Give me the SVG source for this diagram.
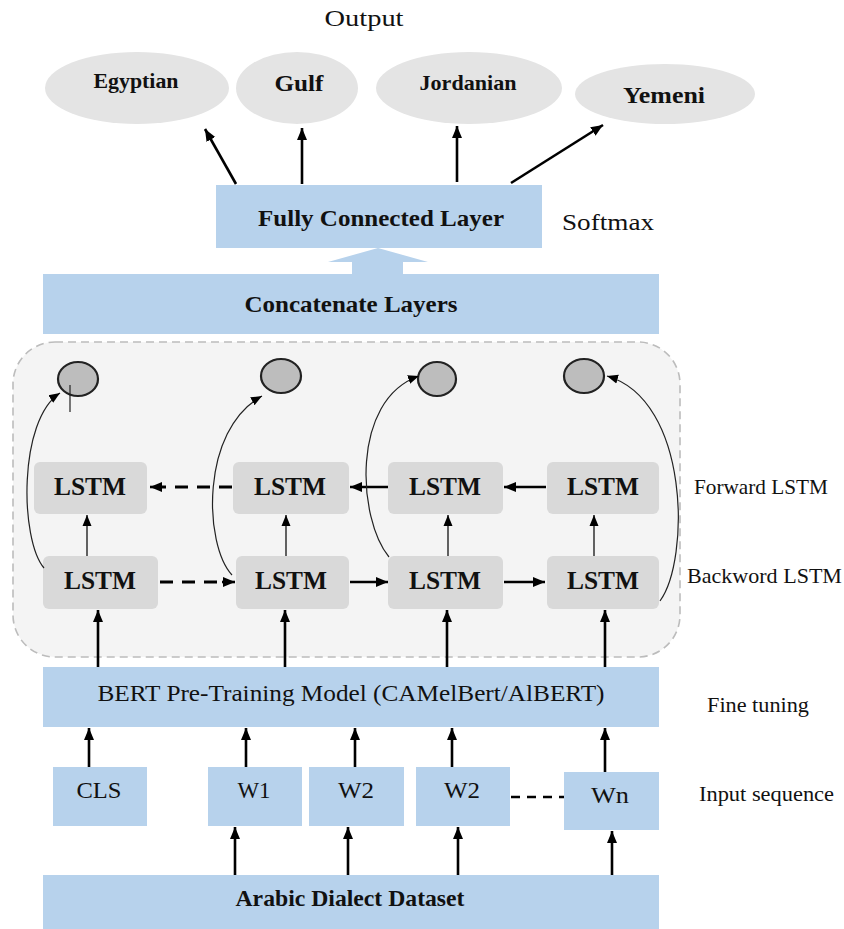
<svg xmlns="http://www.w3.org/2000/svg" width="844" height="929" viewBox="0 0 844 929">
<style>
text{font-family:"Liberation Serif","Times New Roman",serif;fill:#111;text-anchor:middle}
.b{font-weight:bold}
.blue{fill:#b7d2ec}
.oval{fill:#e4e4e4}
.lstm{fill:#d9d9d9}
.lt{font-weight:bold;font-size:25px}
.side{font-size:21px;text-anchor:start}
.ar{stroke:#000;stroke-width:2.6;fill:none;marker-end:url(#ah)}
.th{stroke:#222;stroke-width:1.4;fill:none;marker-end:url(#as)}
.cv{stroke:#222;stroke-width:1.2;fill:none;marker-end:url(#as)}
.dash{stroke:#000;stroke-width:3;fill:none;stroke-dasharray:13 9}
.circ{fill:#bdbdbd;stroke:#222;stroke-width:2.2}
</style>
<defs>
<marker id="ah" markerUnits="userSpaceOnUse" markerWidth="12" markerHeight="12" refX="12" refY="6" orient="auto"><path d="M0,1 L12,6 L0,11 z" fill="#000"/></marker>
<marker id="as" markerUnits="userSpaceOnUse" markerWidth="12" markerHeight="10" refX="11" refY="5" orient="auto"><path d="M0,0.5 L11,5 L0,9.5 z" fill="#000"/></marker>
</defs>
<rect width="844" height="929" fill="#fff"/>

<text x="364" y="26" style="font-size:23px" textLength="79" lengthAdjust="spacingAndGlyphs">Output</text>

<g id="egyptian"><ellipse class="oval" cx="137" cy="88" rx="92" ry="36"/><text class="b" x="136" y="88" style="font-size:20px" textLength="85" lengthAdjust="spacingAndGlyphs">Egyptian</text></g>
<g id="gulf"><ellipse class="oval" cx="297" cy="88" rx="61" ry="36"/><text class="b" x="299" y="91" style="font-size:23px" textLength="49" lengthAdjust="spacingAndGlyphs">Gulf</text></g>
<g id="jordanian"><ellipse class="oval" cx="469" cy="88" rx="93" ry="36"/><text class="b" x="468" y="90" style="font-size:21px" textLength="97" lengthAdjust="spacingAndGlyphs">Jordanian</text></g>
<g id="yemeni"><ellipse class="oval" cx="665" cy="94" rx="90" ry="30"/><text class="b" x="664" y="103" style="font-size:23px" textLength="82" lengthAdjust="spacingAndGlyphs">Yemeni</text></g>

<g id="fc"><rect class="blue" x="216" y="185" width="326" height="63"/><text class="b" x="381" y="226" style="font-size:24px" textLength="246" lengthAdjust="spacingAndGlyphs">Fully Connected Layer</text></g>
<text x="562" y="230" style="font-size:24px;text-anchor:start" textLength="92" lengthAdjust="spacingAndGlyphs">Softmax</text>

<g id="concat"><rect class="blue" x="43" y="274" width="616" height="60"/><text class="b" x="351" y="312" style="font-size:24px" textLength="213" lengthAdjust="spacingAndGlyphs">Concatenate Layers</text></g>

<g id="bilstm-container"><rect x="13" y="342" width="667" height="315" rx="42" fill="#f4f4f4" stroke="#bcbcbc" stroke-width="1.6" stroke-dasharray="8 5"/></g>

<g id="h1"><ellipse class="circ" cx="78" cy="379" rx="20" ry="17"/></g>
<g id="h2"><ellipse class="circ" cx="281" cy="376" rx="20" ry="17"/></g>
<g id="h3"><ellipse class="circ" cx="437" cy="379" rx="19" ry="17"/></g>
<g id="h4"><ellipse class="circ" cx="584" cy="376" rx="20" ry="17"/></g>

<g id="f1"><rect class="lstm" x="34" y="462" width="113" height="52" rx="6"/><text class="lt" x="90" y="495" textLength="72" lengthAdjust="spacingAndGlyphs">LSTM</text></g>
<g id="f2"><rect class="lstm" x="233" y="462" width="116" height="52" rx="6"/><text class="lt" x="290" y="495" textLength="72" lengthAdjust="spacingAndGlyphs">LSTM</text></g>
<g id="f3"><rect class="lstm" x="388" y="462" width="115" height="52" rx="6"/><text class="lt" x="445" y="495" textLength="72" lengthAdjust="spacingAndGlyphs">LSTM</text></g>
<g id="f4"><rect class="lstm" x="547" y="462" width="112" height="52" rx="6"/><text class="lt" x="603" y="495" textLength="72" lengthAdjust="spacingAndGlyphs">LSTM</text></g>

<g id="b1"><rect class="lstm" x="43" y="556" width="115" height="53" rx="6"/><text class="lt" x="100" y="589" textLength="72" lengthAdjust="spacingAndGlyphs">LSTM</text></g>
<g id="b2"><rect class="lstm" x="236" y="556" width="113" height="53" rx="6"/><text class="lt" x="291" y="589" textLength="72" lengthAdjust="spacingAndGlyphs">LSTM</text></g>
<g id="b3"><rect class="lstm" x="388" y="556" width="115" height="53" rx="6"/><text class="lt" x="445" y="589" textLength="72" lengthAdjust="spacingAndGlyphs">LSTM</text></g>
<g id="b4"><rect class="lstm" x="547" y="556" width="112" height="53" rx="6"/><text class="lt" x="603" y="589" textLength="72" lengthAdjust="spacingAndGlyphs">LSTM</text></g>

<text class="side" x="694" y="494" textLength="134" lengthAdjust="spacingAndGlyphs">Forward LSTM</text>
<text class="side" x="687" y="583" textLength="155" lengthAdjust="spacingAndGlyphs">Backword LSTM</text>

<g id="bert"><rect class="blue" x="43" y="667" width="616" height="60"/><text x="351" y="701" style="font-size:24px" textLength="507" lengthAdjust="spacingAndGlyphs">BERT Pre-Training Model (CAMelBert/AlBERT)</text></g>
<text class="side" x="707" y="712" style="font-size:22px" textLength="102" lengthAdjust="spacingAndGlyphs">Fine tuning</text>

<g id="cls"><rect class="blue" x="53" y="767" width="94" height="59"/><text x="99" y="798" style="font-size:24px" textLength="45" lengthAdjust="spacingAndGlyphs">CLS</text></g>
<g id="w1"><rect class="blue" x="208" y="767" width="94" height="59"/><text x="254" y="798" style="font-size:24px" textLength="33" lengthAdjust="spacingAndGlyphs">W1</text></g>
<g id="w2"><rect class="blue" x="309" y="767" width="95" height="59"/><text x="356" y="798" style="font-size:24px" textLength="36" lengthAdjust="spacingAndGlyphs">W2</text></g>
<g id="w2b"><rect class="blue" x="416" y="767" width="94" height="59"/><text x="462" y="798" style="font-size:24px" textLength="36" lengthAdjust="spacingAndGlyphs">W2</text></g>
<g id="wn"><rect class="blue" x="564" y="772" width="95" height="58"/><text x="610" y="803" style="font-size:24px" textLength="38" lengthAdjust="spacingAndGlyphs">Wn</text></g>
<text class="side" x="699" y="801" style="font-size:22px" textLength="135" lengthAdjust="spacingAndGlyphs">Input sequence</text>

<g id="dataset"><rect class="blue" x="43" y="875" width="616" height="54"/><text class="b" x="350" y="906" style="font-size:23px" textLength="229" lengthAdjust="spacingAndGlyphs">Arabic Dialect Dataset</text></g>

<g id="connectors">
<path class="ar" d="M236 184 L205 129"/>
<path class="ar" d="M302 184 L302 128"/>
<path class="ar" d="M457 182 L457 126"/>
<path class="ar" d="M511 183 L603 125"/>
<path d="M352 274 L352 262 L328 262 L378 248 L428 262 L403 262 L403 274 z" fill="#b7d2ec"/>

<path class="dash" d="M232 487 L162 487"/>
<path class="ar" d="M162 487 L150 487"/>
<path class="ar" d="M388 487 L350 487"/>
<path class="ar" d="M546 487 L504 487"/>

<path class="dash" d="M160 582 L222 582"/>
<path class="ar" d="M222 582 L235 582"/>
<path class="ar" d="M350 582 L388 582"/>
<path class="ar" d="M504 582 L545 582"/>

<path class="th" d="M87 556 L87 515"/>
<path class="th" d="M286 556 L286 515"/>
<path class="th" d="M448 556 L448 515"/>
<path class="th" d="M594 556 L594 515"/>

<path class="cv" d="M44 568 C20 540 18 420 60 393"/>
<path d="M70 385 L70 412" stroke="#222" stroke-width="1.2"/>
<path class="cv" d="M232 575 C204 545 200 430 262 396"/>
<path class="cv" d="M389 557 C358 520 350 400 419 376"/>
<path class="cv" d="M660 601 C690 560 690 400 607 376"/>

<path class="ar" d="M98 667 L98 610"/>
<path class="ar" d="M285 667 L285 610"/>
<path class="ar" d="M447 667 L447 610"/>
<path class="ar" d="M605 667 L605 610"/>

<path class="ar" d="M89 767 L89 728"/>
<path class="ar" d="M246 767 L246 728"/>
<path class="ar" d="M355 767 L355 728"/>
<path class="ar" d="M452 767 L452 728"/>
<path class="ar" d="M605 772 L605 728"/>

<path class="ar" d="M235 875 L235 827"/>
<path class="ar" d="M348 875 L348 827"/>
<path class="ar" d="M458 875 L458 827"/>
<path class="ar" d="M612 875 L612 831"/>

<path d="M511 797 L564 797" stroke="#000" stroke-width="2.6" stroke-dasharray="9 7"/>
</g>
</svg>
